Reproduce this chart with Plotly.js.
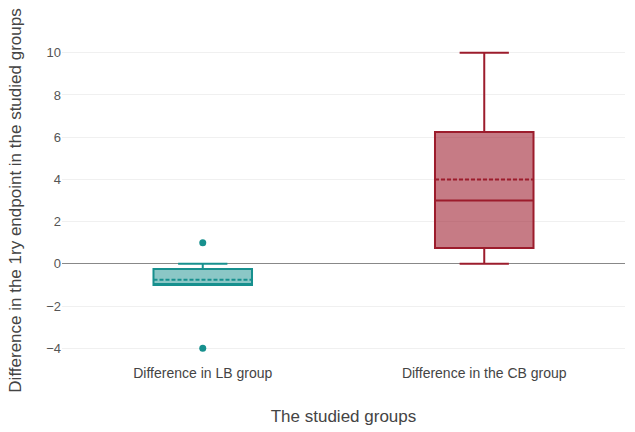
<!DOCTYPE html>
<html>
<head>
<meta charset="utf-8">
<script src="https://cdn.plot.ly/plotly-3.0.1.min.js"></script>
<style>html,body{margin:0;padding:0;background:#fff;}#chart{width:635px;height:432px;}</style>
</head>
<body>
<div id="chart"></div>
<script>
const groups = ["Difference in LB group", "Difference in the CB group"];
const q1 = [-1, 0.75];
const median = [-1, 3];
const q3 = [-0.25, 6.25];
const mean = [-0.75, 4];
const lowerFence = [-1, 0];
const upperFence = [0, 10];
const lineColors = ["#17908e", "#9c1c2c"];
const fillColors = ["rgba(23,144,142,0.5)", "rgba(156,28,44,0.58)"];
const outlierGroup = ["Difference in LB group", "Difference in LB group"];
const outlierValues = [1, -4];

const traces = groups.map((g, i) => ({
  type: "box",
  x: [g],
  q1: [q1[i]], median: [median[i]], q3: [q3[i]], mean: [mean[i]],
  lowerfence: [lowerFence[i]], upperfence: [upperFence[i]],
  boxmean: true,
  line: {color: lineColors[i], width: 2},
  fillcolor: fillColors[i],
  whiskerwidth: 0.5,
  hoverinfo: "none",
  showlegend: false
}));
traces.push({
  type: "scatter", mode: "markers",
  x: outlierGroup, y: outlierValues,
  marker: {color: lineColors[0], size: 7},
  showlegend: false, hoverinfo: "none"
});

const layout = {
  width: 635, height: 432,
  margin: {l: 62, r: 10, t: 38, b: 69},
  paper_bgcolor: "#fff", plot_bgcolor: "#fff",
  font: {family: "Liberation Sans, Arial, sans-serif", color: "#444", size: 12},
  boxgap: 0.5,
  showlegend: false,
  xaxis: {
    type: "category",
    range: [-0.5, 1.5],
    showgrid: false, zeroline: false, showline: false,
    ticks: "",
    tickfont: {size: 14, color: "#444"},
    title: {text: "The studied groups", font: {size: 17, color: "#444"}, standoff: 30}
  },
  yaxis: {
    range: [-4.7, 10.7],
    tickvals: [-4, -2, 0, 2, 4, 6, 8, 10],
    ticktext: ["\u22124", "\u22122", "0", "2", "4", "6", "8", "10"],
    showgrid: true, gridcolor: "#f0f0f0", gridwidth: 1,
    zeroline: true, zerolinecolor: "#888", zerolinewidth: 1,
    showline: false, ticks: "",
    tickfont: {size: 13, color: "#555"},
    title: {text: "Difference in the 1ry endpoint in the studied groups", font: {size: 17, color: "#444"}, standoff: 20}
  }
};

Plotly.newPlot("chart", traces, layout, {displayModeBar: false, staticPlot: true});
</script>
</body>
</html>
